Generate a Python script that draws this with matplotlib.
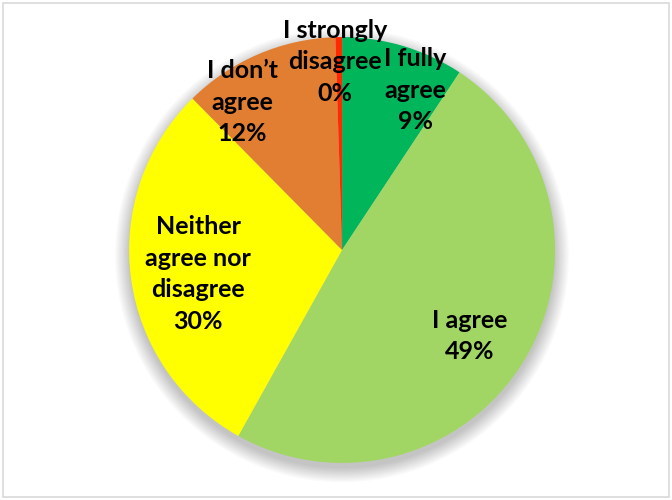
import numpy as np
import matplotlib.pyplot as plt
from matplotlib.patches import Circle, Rectangle

# answers, clockwise from 12 o'clock
labels = ["I fully\nagree", "I agree", "Neither\nagree nor\ndisagree", "I don\u2019t\nagree", "I strongly\ndisagree"]
values = [9.3, 48.8, 29.5, 11.9, 0.5]
pct_text = ["9%", "49%", "30%", "12%", "0%"]
colors = ["#00B55A", "#A2D664", "#FFFF00", "#E27E32", "#FF2A00"]

# where the labels sit (data units, pie radius = 1)
label_pos = [(0.343, 0.751), (0.601, -0.404), (-0.676, -0.113), (-0.469, 0.695), (-0.033, 0.883)]

fig = plt.figure(figsize=(6.72, 5.0), dpi=100)
fig.patches.append(Rectangle((0.005, 0.006), 0.99, 0.988, transform=fig.transFigure,
                             fill=False, edgecolor="#D9D9D9", linewidth=1.2))
ax = fig.add_axes([0, 0, 1, 1])

# soft shadow
for i in range(12):
    ax.add_patch(Circle((0.0, -0.025), 1.0 + 0.006 * i, color="black", alpha=0.018, lw=0, zorder=0))

ax.pie(values, colors=colors, startangle=90, counterclock=False, radius=1.0,
       wedgeprops=dict(linewidth=0, zorder=1))

for (x, y), lab, p in zip(label_pos, labels, pct_text):
    ax.text(x, y, lab + "\n" + p, ha="center", va="center", fontsize=18,
            fontweight="bold", family="Lato", linespacing=1.45, zorder=5)

ax.set_xlim(-1.606, 1.549)
ax.set_ylim(-1.174, 1.174)
ax.set_aspect("equal")
ax.axis("off")

fig.savefig("out.png", dpi=100)
